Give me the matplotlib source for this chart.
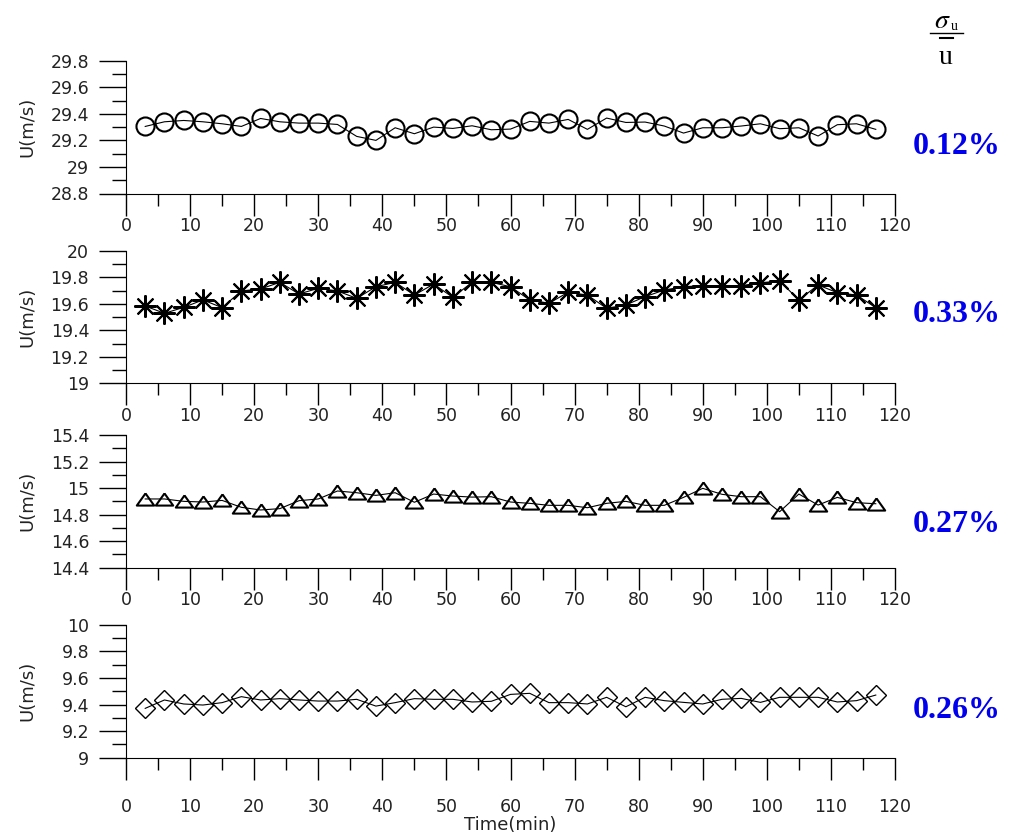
import numpy as np
import matplotlib
matplotlib.use('Agg')
import matplotlib.pyplot as plt
from matplotlib.lines import Line2D
from matplotlib.ticker import MultipleLocator, FormatStrFormatter

plt.rcParams['font.family'] = ['DejaVu Sans']
plt.rcParams['mathtext.fontset'] = 'stix'

# tempo (min)
tempo = [3, 6, 9, 12, 15, 18, 21, 24, 27, 30, 33, 36, 39, 42, 45, 48, 51, 54, 57, 60,
         63, 66, 69, 72, 75, 78, 81, 84, 87, 90, 93, 96, 99, 102, 105, 108, 111, 114, 117]

# velocidades medidas em cada ensaio
u1 = [29.305, 29.34, 29.35, 29.34, 29.325, 29.305, 29.365, 29.34, 29.33, 29.33,
      29.32, 29.23, 29.20, 29.295, 29.25, 29.30, 29.29, 29.31, 29.28, 29.285,
      29.343, 29.33, 29.358, 29.283, 29.368, 29.335, 29.338, 29.308, 29.255, 29.295,
      29.295, 29.308, 29.325, 29.288, 29.295, 29.233, 29.318, 29.325, 29.283]
u2 = [19.584, 19.529, 19.574, 19.63, 19.572, 19.698, 19.713, 19.763, 19.675, 19.718,
      19.698, 19.642, 19.73, 19.763, 19.667, 19.75, 19.65, 19.763, 19.763, 19.73,
      19.63, 19.605, 19.688, 19.667, 19.567, 19.592, 19.655, 19.705, 19.73, 19.738,
      19.738, 19.738, 19.76, 19.773, 19.63, 19.743, 19.685, 19.667, 19.572]
u3 = [14.918, 14.918, 14.90, 14.895, 14.907, 14.855, 14.835, 14.845, 14.905, 14.918,
      14.978, 14.965, 14.945, 14.965, 14.893, 14.955, 14.94, 14.932, 14.935, 14.895,
      14.885, 14.87, 14.87, 14.852, 14.885, 14.90, 14.87, 14.87, 14.93, 14.998,
      14.953, 14.935, 14.935, 14.822, 14.955, 14.872, 14.93, 14.89, 14.882]
u4 = [9.371, 9.434, 9.404, 9.396, 9.414, 9.459, 9.434, 9.444, 9.434, 9.426,
      9.426, 9.439, 9.388, 9.414, 9.444, 9.439, 9.439, 9.419, 9.424, 9.476,
      9.484, 9.414, 9.414, 9.404, 9.454, 9.383, 9.454, 9.429, 9.416, 9.404,
      9.439, 9.446, 9.416, 9.454, 9.454, 9.454, 9.419, 9.429, 9.471]

series = [u1, u2, u3, u4]
limites = [(28.8, 29.8), (19.0, 20.0), (14.4, 15.4), (9.0, 10.0)]
rotulos = ['0.12%', '0.33%', '0.27%', '0.26%']

W, H = 1011, 836
fig = plt.figure(figsize=(W / 100, H / 100), dpi=100)

# posicao dos eixos em pixels (topo, base)
caixas = [(60.7, 193.5), (251, 383.3), (435, 567.7), (624.7, 757.7)]
esq, dir = 126, 895

tri = [(0, 0.7), (-1, -0.7), (1, -0.7), (0, 0.7)]
estilos = [
    dict(marker='o', markersize=13, markeredgewidth=1.5),
    dict(marker=(8, 2, 0), markersize=16, markeredgewidth=1.5),
    dict(marker=tri, markersize=12.5, markeredgewidth=1.5),
    dict(marker='D', markersize=10, markeredgewidth=1.0),
]
texto_y = [147, 314, 524, 711]

for i in range(4):
    topo, base = caixas[i]
    ax = fig.add_axes([esq / W, 1 - base / H, (dir - esq) / W, (base - topo) / H])
    ax.plot(tempo, series[i], color='black', lw=0.8, fillstyle='none',
            markeredgecolor='black', **estilos[i])
    ax.set_xlim(0, 120)
    ax.set_ylim(*limites[i])
    ax.spines['top'].set_visible(False)
    ax.spines['right'].set_visible(False)
    ax.xaxis.set_major_locator(MultipleLocator(10))
    ax.xaxis.set_minor_locator(MultipleLocator(5))
    ax.yaxis.set_major_locator(MultipleLocator(0.2))
    ax.yaxis.set_minor_locator(MultipleLocator(0.1))
    ax.yaxis.set_major_formatter(FormatStrFormatter('%g'))
    xpad = 13 if i == 3 else 1
    ax.tick_params(axis='x', which='major', length=16, width=1, pad=xpad, labelsize=12.5)
    ax.tick_params(axis='x', which='minor', length=8.5, width=1)
    ax.tick_params(axis='y', which='major', length=19.5, width=1, pad=7, labelsize=12.5)
    ax.tick_params(axis='y', which='minor', length=10, width=1)
    for lab in ax.get_xticklabels() + ax.get_yticklabels():
        lab.set_color('#222222')
    ax.set_ylabel('U(m/s)', fontsize=13, color='#222222')
    ax.yaxis.set_label_coords(-0.117, 0.5)
    ax.patch.set_alpha(0)
    fig.text(957 / W, 1 - texto_y[i] / H, rotulos[i], color='#0000ee',
             fontsize=23, fontweight='bold', family='Liberation Serif',
             ha='center', va='center')
    if i == 3:
        ax.set_xlabel('Time(min)', fontsize=13, color='#222222', labelpad=0)

# sigma_u / u-barra
fig.text(942 / W, 1 - 20 / H, r'$\sigma$', fontsize=20, ha='center', va='center')
fig.text(954 / W, 1 - 27 / H, 'u', fontsize=10, family='Liberation Serif',
         ha='center', va='center')
fig.add_artist(Line2D([930 / W, 963 / W], [1 - 33 / H, 1 - 33 / H], color='black', lw=1))
fig.add_artist(Line2D([940 / W, 953 / W], [1 - 38 / H, 1 - 38 / H], color='black', lw=1.5))
fig.text(946 / W, 1 - 57 / H, 'u', fontsize=20, family='Liberation Serif',
         ha='center', va='center')

fig.savefig('out.png', dpi=100)
